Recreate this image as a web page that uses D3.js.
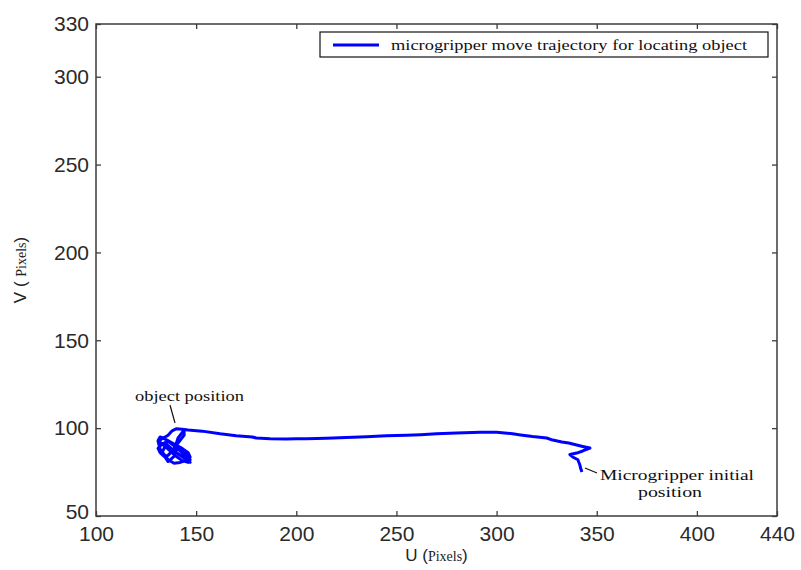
<!DOCTYPE html>
<html><head><meta charset="utf-8">
<script src="https://cdn.jsdelivr.net/npm/d3@7"></script>
<style>body{margin:0;background:#fff}svg{display:block}</style>
</head><body>
<svg id="c" width="801" height="570"></svg>
<script>
const xTicks = [100,150,200,250,300,350,400,440];
const yTicks = [50,100,150,200,250,300,330];
const xDomain = [100,440];
const yDomain = [50,330];
const seriesName = "microgripper move trajectory for locating object";
// trajectory from initial position to object
const U = [342.6,342,341.6,341,340.6,338,336.6,340,343,346.6,343,340,336,332.6,328,325,318,312,308,304,300,292,280,270,262,255,245,235,225,215,205,200,195,187,180,178,170,162,153,146,
  143,140,138,136,133,131,132,134,136,139,142,145,147,146,143,139,135,132,131,134,137,140,143,146,147,145,142,140,141,143,144,144,142,140,138,136,134,132,131,133,136,139,141,
  144,147,144,139,135,133,136,139,141];
const V = [75,77,79,80.7,82,83.6,85,85.8,87,88.7,89.6,90.4,91.5,92.1,93.2,94.4,95.2,96.1,96.8,97.3,97.6,97.6,97.2,96.8,96.3,96,95.6,95.1,94.7,94.3,94,93.9,93.8,94,94.4,95,95.7,96.8,98.3,98.9,
  99.4,99.6,98.5,96,94,92.5,88,85,82,80,80.5,81.5,83.5,86,88.5,91,93.5,95,93,90,87,84,81.5,80.5,82,85,88,91,94.5,97.5,99,96,93,90,87,84.5,84,86,88.5,91,92.5,90,88,
  85,80.5,83,87,91,86,81,84,90];

const W=801,H=570;
const m={l:96,r:777,t:24,b:516};
const svg=d3.select("#c");
const x=d3.scaleLinear().domain(xDomain).range([m.l,m.r]);
const y=d3.scaleLinear().domain(yDomain).range([m.b,m.t]);
const axisColor="#3c3c3c";
const tickFont="'Liberation Sans', Arial, sans-serif";
const serif="'Liberation Serif','DejaVu Serif',serif";

// box
svg.append("rect").attr("x",m.l).attr("y",m.t).attr("width",m.r-m.l).attr("height",m.b-m.t)
  .attr("fill","none").attr("stroke",axisColor).attr("stroke-width",1.5);

const tl=5;
const xAxisB=d3.axisBottom(x).tickValues(xTicks).tickSize(-tl).tickPadding(10).tickFormat(d3.format("d"));
const xAxisT=d3.axisTop(x).tickValues(xTicks).tickSize(-tl).tickFormat("");
const yAxisL=d3.axisLeft(y).tickValues(yTicks).tickSize(-tl).tickPadding(7).tickFormat(d3.format("d"));
const yAxisR=d3.axisRight(y).tickValues(yTicks).tickSize(-tl).tickFormat("");
function style(g){
  g.select(".domain").remove();
  g.selectAll(".tick line").attr("stroke",axisColor).attr("stroke-width",1.3);
  g.selectAll(".tick text").attr("fill","#2a2a2a").style("font-family",tickFont).style("font-size","21px");
}
svg.append("g").attr("transform",`translate(0,${m.b})`).call(xAxisB).call(style);
svg.append("g").attr("transform",`translate(0,${m.t})`).call(xAxisT).call(style);
const gl=svg.append("g").attr("transform",`translate(${m.l},0)`).call(yAxisL).call(style);
gl.selectAll(".tick").filter(d=>d===50).select("text").attr("dy","0.1em");

// axis titles
const xt=svg.append("text").attr("x",(m.l+m.r)/2).attr("y",561).attr("text-anchor","middle").attr("fill","#222");
xt.append("tspan").style("font-family",tickFont).style("font-size","17px").text("U (");
xt.append("tspan").style("font-family",serif).style("font-size","14px").text("Pixels");
xt.append("tspan").style("font-family",tickFont).style("font-size","17px").text(")");
const yt=svg.append("text").attr("transform",`translate(26,${(m.t+m.b)/2}) rotate(-90)`).attr("text-anchor","middle").attr("fill","#222");
yt.append("tspan").style("font-family",tickFont).style("font-size","17px").text("V ( ");
yt.append("tspan").style("font-family",serif).style("font-size","14px").text("Pixels");
yt.append("tspan").style("font-family",tickFont).style("font-size","17px").text(")");
svg.append("g").attr("transform",`translate(${m.r},0)`).call(yAxisR).call(style);

// trajectory
const pts=U.map((u,i)=>[u,V[i]]);
svg.append("path").datum(pts).attr("fill","none").attr("stroke","#0000ff").attr("stroke-width",3)
  .attr("stroke-linejoin","round").attr("d",d3.line().x(d=>x(d[0])).y(d=>y(d[1])));

// annotations
svg.append("text").attr("x",135).attr("y",401).attr("textLength",109).attr("lengthAdjust","spacingAndGlyphs")
  .style("font-family",serif).style("font-size","15px").attr("fill","#111").text("object position");
svg.append("line").attr("x1",170).attr("y1",405).attr("x2",175).attr("y2",423).attr("stroke","#111").attr("stroke-width",1.2);
svg.append("line").attr("x1",585).attr("y1",468).attr("x2",597).attr("y2",473).attr("stroke","#111").attr("stroke-width",1.2);
svg.append("text").attr("x",600).attr("y",480).attr("textLength",154).attr("lengthAdjust","spacingAndGlyphs")
  .style("font-family",serif).style("font-size","15px").attr("fill","#111").text("Microgripper initial");
svg.append("text").attr("x",638).attr("y",497).attr("textLength",64).attr("lengthAdjust","spacingAndGlyphs")
  .style("font-family",serif).style("font-size","15px").attr("fill","#111").text("position");

// legend
const lg=svg.append("g");
lg.append("rect").attr("x",320).attr("y",32).attr("width",448).attr("height",25).attr("fill","#fff").attr("stroke","#111").attr("stroke-width",1.2);
lg.append("line").attr("x1",333).attr("x2",379).attr("y1",45).attr("y2",45).attr("stroke","#0000ff").attr("stroke-width",3);
lg.append("text").attr("x",391).attr("y",50).attr("textLength",356).attr("lengthAdjust","spacingAndGlyphs")
  .style("font-family",serif).style("font-size","15px").attr("fill","#111").text(seriesName);
</script>
</body></html>
